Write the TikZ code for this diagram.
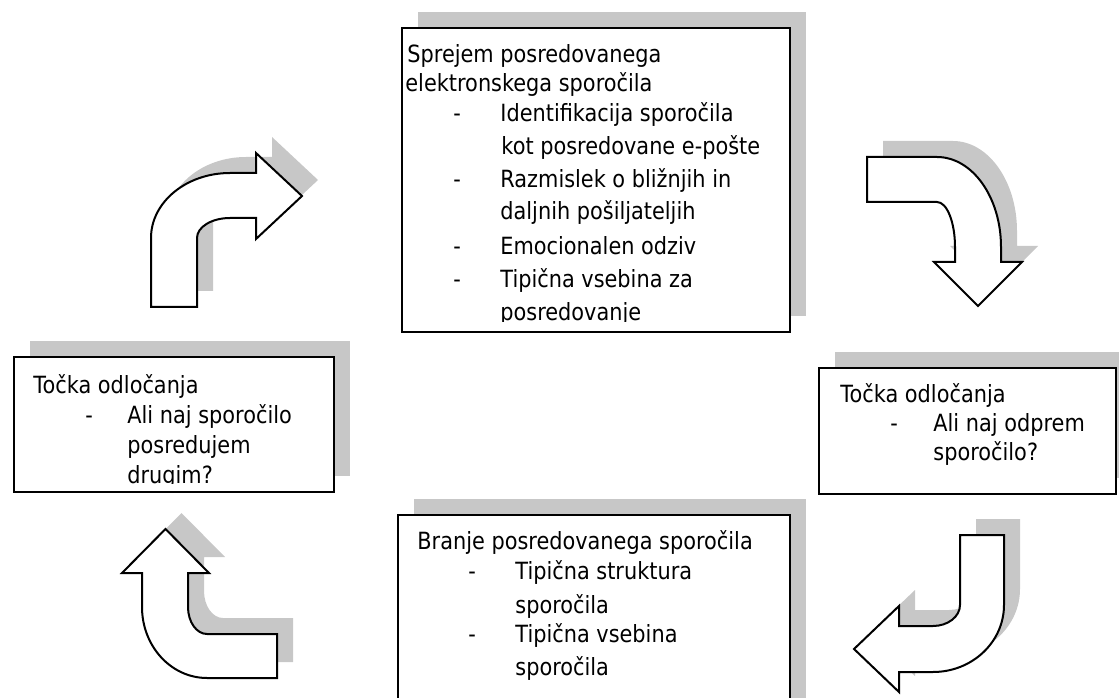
\documentclass[tikz,border=0pt]{standalone}
\usepackage{fontspec}
\setmainfont{DejaVu Sans}[FakeStretch=0.88]
\usetikzlibrary{shadows}

\begin{document}
\begin{tikzpicture}[x=0.5pt, y=0.5pt,
  txt/.style={inner sep=0pt, anchor=base west, font=\fontsize{11.85}{14}\selectfont},
  lift/.style={drop shadow={shadow xshift=8pt, shadow yshift=8pt, fill=black!22, opacity=1}},
  panel/.style={draw, line width=1pt, fill=white, lift, anchor=south west, inner sep=0pt},
  turnarrow/.style={draw, line width=1pt, fill=white, lift}]
\clip (0,0) rectangle (1119,697);
% boxes
\node[panel, minimum width=194pt, minimum height=152pt] (recv) at (401,364) {};
\node[panel, minimum width=160pt, minimum height=67.5pt] (fwd) at (13,204) {};
\node[panel, minimum width=148.5pt, minimum height=63pt] (open) at (818,202) {};
\node[panel, minimum width=196pt, minimum height=100.5pt] (read) at (397,-20) {};
% bent arrows
\draw[turnarrow] (151,390) -- (151,459) arc[start angle=180, end angle=90, x radius=39.5pt, y radius=32.5pt]
  -- (256,524) -- (256,544) -- (302,501) -- (256,458) -- (256,479) -- (230,479)
  arc[start angle=90, end angle=180, x radius=16.5pt, y radius=10pt] -- (197,390) -- cycle;
\draw[turnarrow] (867,495) -- (867,540) -- (937,540) arc[start angle=90, end angle=0, x radius=32pt, y radius=45pt]
  -- (1001,435) -- (1022,435) -- (978,391) -- (934,435) -- (955,435) -- (955,450)
  arc[start angle=0, end angle=90, x radius=9pt, y radius=22.5pt] -- cycle;
\draw[turnarrow] (960,162) -- (960,92) arc[start angle=0, end angle=-90, x radius=13.5pt, y radius=10.5pt]
  -- (899,71) -- (899,91) -- (854,48) -- (899,5) -- (899,25) -- (933,25)
  arc[start angle=-90, end angle=0, x radius=35.5pt, y radius=33.5pt] -- (1004,162) -- cycle;
\draw[turnarrow] (165.5,168) -- (209,124) -- (188,124) -- (188,90) arc[start angle=180, end angle=270, x radius=9.5pt, y radius=13.5pt]
  -- (277,63) -- (277,19) -- (207,19) arc[start angle=270, end angle=180, x radius=32.5pt, y radius=35.5pt]
  -- (142,124) -- (122,124) -- cycle;
% texts
\begin{scope}
\clip (401,375.5) rectangle (789,668);
\foreach \x/\y/\lbl [count=\i] in {407/634/Sprejem posredovanega, 405/605/elektronskega sporočila,
    500/575/Identifikacija sporočila, 501/542/kot posredovane e-pošte, 500/509/Razmislek o bližnjih in,
    500/477/daljnih pošiljateljih, 500/442/Emocionalen odziv, 500/409/Tipična vsebina za, 500/376/posredovanje}
  \node[txt] (recv-\i) at (\x,\y) {\lbl};
\foreach \y [count=\i] in {575,509,442,409}
  \node[txt] (recv-d\i) at (453,\y) {-};
\end{scope}
\begin{scope}
\clip (13,213.5) rectangle (333,339);
\foreach \x/\y/\lbl [count=\i] in {33/304/Točka odločanja, 127/274/Ali naj sporočilo, 127/244/posredujem, 127/214/drugim?}
  \node[txt] (fwd-\i) at (\x,\y) {\lbl};
\node[txt] (fwd-d1) at (85,274) {-};
\end{scope}
\foreach \x/\y/\lbl [count=\i] in {840/294/Točka odločanja, 933/265/Ali naj odprem, 933/237/sporočilo?}
  \node[txt] (open-\i) at (\x,\y) {\lbl};
\node[txt] (open-d1) at (890,265) {-};
\foreach \x/\y/\lbl [count=\i] in {417/148/Branje posredovanega sporočila, 515/118/Tipična struktura,
    515/84/sporočila, 515/55/Tipična vsebina, 515/22/sporočila}
  \node[txt] (read-\i) at (\x,\y) {\lbl};
\foreach \y [count=\i] in {118,55}
  \node[txt] (read-d\i) at (468,\y) {-};
\end{tikzpicture}
\end{document}
